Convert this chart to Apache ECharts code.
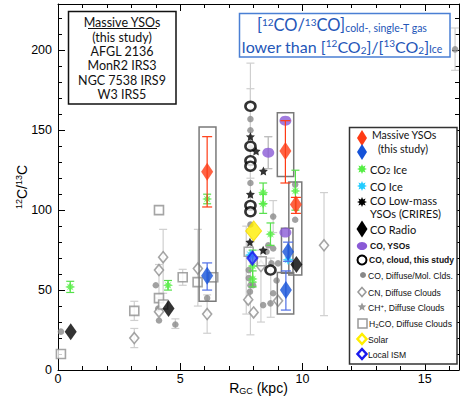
<!DOCTYPE html>
<html><head><meta charset="utf-8">
<script src="https://cdn.jsdelivr.net/npm/echarts@6/dist/echarts.min.js"></script>
<style>html,body{margin:0;padding:0;background:#fff}#c{width:461px;height:400px}</style>
</head><body><div id="c"></div>
<script>
// ---------- data ----------
const xTickLabels = [0, 5, 10, 15];
const yTickLabels = [0, 50, 100, 150, 200];

// CO, Diffuse/Mol. Clouds (grey dots)
const coDiffX = [0.12,4.0,4.1,4.13,4.8,6.1,7.87,7.87,7.87,7.87,7.87,7.87,7.85,7.98,8.8,9.7,9.7,8.6,8.53,8.8,8.39,8.69,8.8,8.94,8.73,9.0,7.8,7.8,16.24];
const coDiffY = [24,53,38.5,31,28.5,45,157,150,139,117,91,53,49,53,96,116,94,78,74,76,40.6,41.7,48,56,66.7,66.7,62.5,57.5,200.6];

// CN, Diffuse Clouds (open grey diamonds)
const cnX = [3.12,4.13,4.3,4.13,5.72,6.1,10.88,7.78,8.0,9.0,8.3];
const cnY = [20,62.5,70.6,36.5,63.5,35,78,44,36,43.3,65];

// H2CO, Diffuse Clouds (open grey squares)
const h2coX = [0.12,3.12,4.13,4.13,4.3,5.1,5.71,6.35,7.8,8.33];
const h2coY = [10,37,100,45,41,58,55,58,74,68];

// grey error bars: x, low, high
const greyErrX  = [4.8,7.87,7.87,7.87,8.8,8.3,8.7,16.24,3.12,4.13,4.3,5.72,6.1,10.88,3.12,5.1,6.35,8.6,7.7];
const greyErrLo = [26,120,100,22,86,30,33,187.5,14,45,48,40,23,34,31,53,55,126,35];
const greyErrHi = [32,192,176,80,106,75,70,214,26,66,88,88,47,111,43,63,61,146,90];

// CO2 Ice (green stars)
const co2IceX  = [0.5,4.5,6.1,9.71,8.39,8.39,8.69,7.96,7.96];
const co2IceY  = [52,53,107,112,111,104,85,65,57];
const co2IceLo = [48.5,50,104,100,104,98,78,55,52];
const co2IceHi = [55.5,56,110,125,117,110,92,75,62];

// CO Ice (cyan stars)
const coIceX = [7.87,9.41];
const coIceY = [72,69];

// CO Low-mass YSOs (CRIRES) (black stars)
const crX = [8.1,8.4,7.87,8.39,7.85,7.87];
const crY = [137,124.5,110,75,80,146];

// CO Radio (black diamonds)
const radioX = [0.52,4.52,9.75];
const radioY = [24,38.5,66];

// CO, YSOs (purple)
const ysoX = [9.3,8.6,9.3];
const ysoY = [156,136,86];

// CO, cloud, this study (black open circles)
const cloudX = [7.87,7.87,7.87,7.87,7.87,7.87,8.69];
const cloudY = [165,140,131,127.5,103,99,62.5];

// Solar and Local ISM
const solarX = [8.0], solarY = [87];
const ismX = [7.95], ismY = [70];

// Massive YSOs (this study): ice (red) and gas (blue)
const redX  = [6.1,9.3,9.73];
const redY  = [124,137,103.5];
const redLo = [102,117,98];
const redHi = [146,156,108];
const blueX  = [6.1,9.32,9.41];
const blueY  = [59,50,74];
const blueLo = [50,37.5,68];
const blueHi = [67,62,80];

// grey frames around the Massive YSO points: xmin, xmax, ymin, ymax
const boxXmin = [5.77,8.97,8.97,9.44,9.14];
const boxXmax = [6.46,9.64,9.64,9.97,9.61];
const boxYmin = [43,121,35,59.4,60.6];
const boxYmax = [152,161,61,117.7,88.75];

// ---------- helpers ----------
const pts = (xs, ys) => xs.map((x, i) => [x, ys[i]]);
const errs = (xs, lo, hi) => xs.map((x, i) => [x, lo[i], hi[i]]);
const STAR8 = 'path://M0,-10 L2.6,-4.2 L7,-7 L4.2,-2.6 L10,0 L4.2,2.6 L7,7 L2.6,4.2 L0,10 L-2.6,4.2 L-7,7 L-4.2,2.6 L-10,0 L-4.2,-2.6 L-7,-7 L-2.6,-4.2 Z';
const STAR5 = 'path://M0,-10 L2.9,-4 L9.5,-3.1 L4.7,1.5 L5.9,8.1 L0,5 L-5.9,8.1 L-4.7,1.5 L-9.5,-3.1 L-2.9,-4 Z';

function errSeries(data, color, cap, z) {
  return {
    type: 'custom', data: data, z: z, silent: true,
    encode: { x: 0, y: [1, 2] },
    renderItem: function (params, api) {
      const x = api.value(0), lo = api.value(1), hi = api.value(2);
      const a = api.coord([x, lo]), b = api.coord([x, hi]);
      const st = { stroke: color, lineWidth: 1.2 };
      return { type: 'group', children: [
        { type: 'line', shape: { x1: a[0], y1: a[1], x2: b[0], y2: b[1] }, style: st },
        { type: 'line', shape: { x1: a[0] - cap, y1: a[1], x2: a[0] + cap, y2: a[1] }, style: st },
        { type: 'line', shape: { x1: b[0] - cap, y1: b[1], x2: b[0] + cap, y2: b[1] }, style: st }
      ]};
    }
  };
}
function scat(data, symbol, size, itemStyle, z) {
  return { type: 'scatter', data: data, symbol: symbol, symbolSize: size, itemStyle: itemStyle, z: z, silent: true };
}
function diamond(cx, cy, w, h) { return [[cx, cy - h / 2], [cx + w / 2, cy], [cx, cy + h / 2], [cx - w / 2, cy]]; }
function starPts(cx, cy, r, n, k) {
  const p = [];
  for (let i = 0; i < 2 * n; i++) {
    const ang = -Math.PI / 2 + i * Math.PI / n, rr = i % 2 ? r * k : r;
    p.push([cx + rr * Math.cos(ang), cy + rr * Math.sin(ang)]);
  }
  return p;
}

const boxData = boxXmin.map((v, i) => [v, boxXmax[i], boxYmin[i], boxYmax[i]]);

const chart = echarts.init(document.getElementById('c'), null, { renderer: 'svg' });

const axisCommon = {
  type: 'value', splitLine: { show: false },
  axisLine: { show: true, onZero: false, lineStyle: { color: '#000', width: 1 } },
  axisTick: { show: true, inside: true, length: 7, lineStyle: { color: '#000' } },
  minorTick: { show: true, splitNumber: 5, length: 4, lineStyle: { color: '#000' } }
};
const labStyle = { color: '#000', fontSize: 12.5, fontFamily: 'Liberation Sans' };

const legFont = '10.5px Lato';
const legFont2 = '11px Lato';
const smallFont = '8.6px "Liberation Sans"';
const smallBold = 'bold 8.5px "Liberation Sans"';
function txt(x, y, text, font, extra) {
  return Object.assign({ type: 'text', z: 100, style: Object.assign({ text: text, x: x, y: y, font: font, fill: '#111', verticalAlign: 'middle' }, extra || {}) });
}

const graphic = [
  // top-left text box
  { type: 'rect', z: 90, shape: { x: 68.5, y: 11.5, width: 107.5, height: 92.5 }, style: { fill: '#fff', stroke: '#111', lineWidth: 1.5 } },
  txt(122, 22, 'Massive YSOs', '12.5px Lato', { align: 'center' }),
  { type: 'line', z: 100, shape: { x1: 88, y1: 28.5, x2: 157, y2: 28.5 }, style: { stroke: '#111', lineWidth: 1 } },
  txt(122, 37, '(this study)', '12.5px Lato', { align: 'center' }),
  txt(122, 51, 'AFGL 2136', '12.5px Lato', { align: 'center' }),
  txt(122, 65.5, 'MonR2 IRS3', '12.5px Lato', { align: 'center' }),
  txt(122, 80, 'NGC 7538 IRS9', '12.5px Lato', { align: 'center' }),
  txt(122, 94, 'W3 IRS5', '12.5px Lato', { align: 'center' }),
  // blue text box
  { type: 'rect', z: 90, shape: { x: 239.5, y: 13.5, width: 210.5, height: 43.5 }, style: { fill: '#fff', stroke: '#4a7fd4', lineWidth: 1.5 } },
  { type: 'text', z: 100, style: { x: 342, y: 25, align: 'center', verticalAlign: 'middle',
      text: '{m|[}{s|12}{m|CO/}{s|13}{m|CO]}{b|cold-, single-T gas}', fill: '#2456b8',
      rich: { m: { fontSize: 16.5, fontFamily: 'Lato', fill: '#2456b8' }, s: { fontSize: 10, fontFamily: 'Lato', fill: '#2456b8', padding: [0, 0, 7, 0] }, b: { fontSize: 10.5, fontFamily: 'Lato', fill: '#2456b8', padding: [6, 0, 0, 0] } } } },
  { type: 'text', z: 100, style: { x: 342, y: 46, align: 'center', verticalAlign: 'middle',
      text: '{m|lower than [}{s|12}{m|CO}{d|2}{m|]/[}{s|13}{m|CO}{d|2}{m|]}{b|Ice}', fill: '#2456b8',
      rich: { m: { fontSize: 16, fontFamily: 'Lato', fill: '#2456b8' }, s: { fontSize: 10, fontFamily: 'Lato', fill: '#2456b8', padding: [0, 0, 7, 0] }, d: { fontSize: 10, fontFamily: 'Lato', fill: '#2456b8', padding: [7, 0, 0, 0] }, b: { fontSize: 10.5, fontFamily: 'Lato', fill: '#2456b8', padding: [6, 0, 0, 0] } } } },
  // legend box
  { type: 'rect', z: 90, shape: { x: 349.5, y: 127.5, width: 107.5, height: 236.5 }, style: { fill: '#fff', stroke: '#333', lineWidth: 1.5 } },
  { type: 'polygon', z: 100, shape: { points: diamond(362, 138, 10, 16) }, style: { fill: '#ff3b14' } },
  { type: 'polygon', z: 100, shape: { points: diamond(362, 152, 10, 16) }, style: { fill: '#1552d8' } },
  txt(372, 135, 'Massive YSOs', legFont),
  txt(378, 148.5, '(this study)', legFont),
  { type: 'polygon', z: 100, shape: { points: starPts(362, 169, 5, 8, 0.55) }, style: { fill: '#55ee44' } },
  { type: 'text', z: 100, style: { x: 370, y: 169, verticalAlign: 'middle', text: '{m|CO}{d|2}{m| Ice}', rich: { m: { fontSize: 11, fontFamily: 'Lato', fill: '#111' }, d: { fontSize: 7.5, fontFamily: 'Lato', fill: '#111', padding: [4, 0, 0, 0] } } } },
  { type: 'polygon', z: 100, shape: { points: starPts(362, 186, 5, 8, 0.55) }, style: { fill: '#22ccff' } },
  txt(370, 186, 'CO Ice', legFont2),
  { type: 'polygon', z: 100, shape: { points: starPts(362, 202, 5, 8, 0.55) }, style: { fill: '#000' } },
  txt(370, 207, 'CO Low-mass\nYSOs (CRIRES)', legFont2, { lineHeight: 12.6 }),
  { type: 'polygon', z: 100, shape: { points: diamond(362, 229, 11, 17) }, style: { fill: '#000' } },
  txt(370, 229, 'CO Radio', legFont2),
  { type: 'circle', z: 100, shape: { cx: 362, cy: 246, r: 4 }, scaleX: 1.3, originX: 362, originY: 246, style: { fill: '#8a5ad6' } },
  txt(370, 246, 'CO, YSOs', smallBold),
  { type: 'circle', z: 100, shape: { cx: 362, cy: 260, r: 4.5 }, style: { fill: '#fff', stroke: '#000', lineWidth: 2 } },
  txt(369, 260, 'CO, cloud, this study', smallBold),
  { type: 'circle', z: 100, shape: { cx: 363, cy: 275, r: 3 }, style: { fill: '#888' } },
  txt(368, 275.5, 'CO, Diffuse/Mol. Clds.', smallFont),
  { type: 'polygon', z: 100, shape: { points: diamond(362, 292, 8, 9) }, style: { fill: '#fff', stroke: '#999', lineWidth: 1.5 } },
  txt(368, 292.5, 'CN, Diffuse Clouds', smallFont),
  { type: 'polygon', z: 100, shape: { points: starPts(362, 307, 4.5, 5, 0.45) }, style: { fill: '#999' } },
  { type: 'text', z: 100, style: { x: 368, y: 308, verticalAlign: 'middle', text: 'CH{s|+}, Diffuse Clouds', font: smallFont, fill: '#111', rich: { s: { fontSize: 6, fontFamily: 'Liberation Sans', fill: '#111', padding: [0, 0, 5, 0] } } } },
  { type: 'rect', z: 100, shape: { x: 358, y: 319, width: 9, height: 9 }, style: { fill: '#fff', stroke: '#999', lineWidth: 1.5 } },
  { type: 'text', z: 100, style: { x: 369, y: 324, verticalAlign: 'middle', text: 'H{d|2}CO, Diffuse Clouds', font: smallFont, fill: '#111', rich: { d: { fontSize: 6, fontFamily: 'Liberation Sans', fill: '#111', padding: [4, 0, 0, 0] } } } },
  { type: 'polygon', z: 100, shape: { points: diamond(362, 339, 9, 10) }, style: { fill: '#fff', stroke: '#ffee00', lineWidth: 2.5 } },
  txt(368, 339.5, 'Solar', smallFont),
  { type: 'polygon', z: 100, shape: { points: diamond(362, 354, 9, 10) }, style: { fill: '#fff', stroke: '#1a1aee', lineWidth: 2.5 } },
  txt(368, 354.5, 'Local ISM', smallFont)
];

const option = {
  animation: false,
  backgroundColor: '#fff',
  grid: { left: 58, right: 2, top: 4, bottom: 30, containLabel: false, outerBoundsMode: 'none' },
  xAxis: [
    Object.assign({}, axisCommon, { min: 0, max: 16.4, interval: 5, position: 'bottom',
      axisLabel: Object.assign({}, labStyle, { margin: 2, showMaxLabel: false, formatter: v => xTickLabels.indexOf(v) >= 0 ? String(v) : '' }),
      name: 'R{sub|GC} (kpc)', nameLocation: 'middle', nameGap: 10, nameMoveOverlap: false,
      nameTextStyle: { fontSize: 14, fontFamily: 'Liberation Sans', color: '#000', rich: { sub: { fontSize: 9, fontFamily: 'Liberation Sans', color: '#000', padding: [6, 0, 0, 0] } } } }),
    Object.assign({}, axisCommon, { min: 0, max: 16.4, interval: 5, position: 'top', axisLabel: { show: false } })
  ],
  yAxis: [
    Object.assign({}, axisCommon, { min: 0, max: 229, interval: 50, position: 'left',
      axisLabel: Object.assign({}, labStyle, { margin: 6, showMaxLabel: false, formatter: v => yTickLabels.indexOf(v) >= 0 ? String(v) : '' }),
      name: '{sup|12}C/{sup|13}C', nameLocation: 'middle', nameGap: 29, nameRotate: 90, nameMoveOverlap: false,
      nameTextStyle: { fontSize: 14, fontFamily: 'Liberation Sans', color: '#000', rich: { sup: { fontSize: 9, fontFamily: 'Liberation Sans', color: '#000', padding: [0, 0, 6, 0] } } } }),
    Object.assign({}, axisCommon, { min: 0, max: 229, interval: 50, position: 'right', axisLabel: { show: false } })
  ],
  graphic: graphic,
  series: [
    errSeries(errs(greyErrX, greyErrLo, greyErrHi), '#cfcfcf', 4, 1),
    scat(pts(coDiffX, coDiffY), 'circle', 6.5, { color: '#8a8a8a' }, 2),
    scat(pts(cnX, cnY), 'diamond', [9, 11], { color: '#fff', borderColor: '#8f8f8f', borderWidth: 1.6 }, 2),
    scat(pts(h2coX, h2coY), 'rect', 9, { color: '#fff', borderColor: '#8f8f8f', borderWidth: 1.6 }, 2),
    {
      type: 'custom', data: boxData, z: 3, silent: true,
      encode: { x: [0, 1], y: [2, 3] },
      renderItem: function (params, api) {
        const a = api.coord([api.value(0), api.value(3)]), b = api.coord([api.value(1), api.value(2)]);
        return { type: 'rect', shape: { x: a[0], y: a[1], width: b[0] - a[0], height: b[1] - a[1] }, style: { fill: 'none', stroke: '#7a7a7a', lineWidth: 1.5 } };
      }
    },
    errSeries(errs(co2IceX, co2IceLo, co2IceHi), '#55e04a', 4, 4),
    scat(pts(co2IceX, co2IceY), STAR8, 10, { color: '#55ee44' }, 5),
    scat(pts(cloudX, cloudY), 'circle', [10, 9], { color: '#fff', borderColor: '#000', borderWidth: 2.5 }, 5),
    scat(pts(crX, crY), STAR5, 9, { color: '#000' }, 5),
    errSeries(errs([8.6], [126], [146]), '#bdbdbd', 4, 4),
    scat(pts(ysoX, ysoY), 'circle', [12, 10], { color: '#8a5ad6' }, 5),
    scat(pts(coIceX, coIceY), STAR8, 11, { color: '#22ccff' }, 6),
    scat(pts(solarX, solarY), 'diamond', [16, 20], { color: '#ffee00', borderColor: '#f5d800', borderWidth: 1 }, 6),
    scat(pts(ismX, ismY), 'diamond', [10, 13], { color: '#3355ff', borderColor: '#1a1aee', borderWidth: 2 }, 6),
    scat(pts(radioX, radioY), 'diamond', [12, 17], { color: '#000' }, 6),
    errSeries(errs(redX, redLo, redHi), '#ff3b14', 5, 7),
    errSeries(errs(blueX, blueLo, blueHi), '#4f6fe6', 5, 7),
    scat(pts(redX, redY), 'diamond', [12, 18], { color: '#ff3b14' }, 8),
    scat(pts(blueX, blueY), 'diamond', [12, 18], { color: '#1552d8' }, 8)
  ]
};
chart.setOption(option);
</script></body></html>
